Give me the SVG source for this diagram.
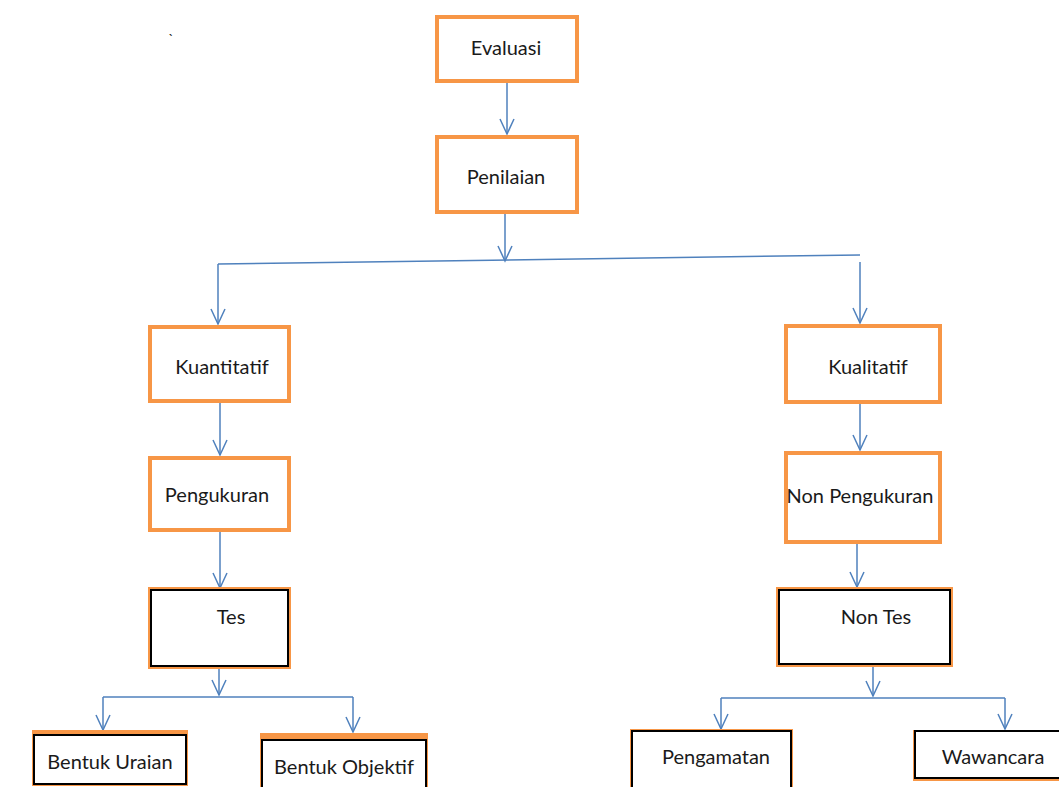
<svg xmlns="http://www.w3.org/2000/svg" width="1059" height="787" viewBox="0 0 1059 787">
<style>
.ob{fill:#fff;stroke:#F79646;stroke-width:4}
.oo{fill:none;stroke:#F79646;stroke-width:2}
.bb{fill:#fff;stroke:#000;stroke-width:2}
.c{fill:none;stroke:#4F81BD;stroke-width:1.5}
text{font-family:Lato,"Liberation Sans",sans-serif;font-size:20px;fill:#1a1a1a;text-anchor:middle}
</style>
<defs>
<marker id="a" markerUnits="userSpaceOnUse" markerWidth="18" markerHeight="16" refX="16" refY="8" orient="auto" viewBox="0 0 18 16">
<path d="M1,1 L16,8 L1,15" fill="none" stroke="#4F81BD" stroke-width="1.5"/>
</marker>
</defs>
<rect width="1059" height="787" fill="#fff"/>
<text x="171" y="44" style="font-size:14px">`</text>
<g id="connectors">
<line class="c" x1="507" y1="82" x2="507" y2="134" marker-end="url(#a)"/>
<line class="c" x1="505" y1="213" x2="505" y2="261" marker-end="url(#a)"/>
<line class="c" x1="218" y1="264" x2="860" y2="255"/>
<line class="c" x1="218" y1="264" x2="218" y2="324" marker-end="url(#a)"/>
<line class="c" x1="860" y1="262" x2="860" y2="323" marker-end="url(#a)"/>
<line class="c" x1="220" y1="402" x2="220" y2="455" marker-end="url(#a)"/>
<line class="c" x1="860" y1="403" x2="860" y2="450" marker-end="url(#a)"/>
<line class="c" x1="220" y1="531" x2="220" y2="588" marker-end="url(#a)"/>
<line class="c" x1="857" y1="544" x2="857" y2="587" marker-end="url(#a)"/>
<line class="c" x1="219" y1="667" x2="219" y2="695" marker-end="url(#a)"/>
<line class="c" x1="103" y1="697" x2="353" y2="697"/>
<line class="c" x1="103" y1="697" x2="103" y2="730" marker-end="url(#a)"/>
<line class="c" x1="353" y1="697" x2="353" y2="732" marker-end="url(#a)"/>
<line class="c" x1="873" y1="666" x2="873" y2="696" marker-end="url(#a)"/>
<line class="c" x1="721" y1="698" x2="1005" y2="698"/>
<line class="c" x1="721" y1="698" x2="721" y2="729" marker-end="url(#a)"/>
<line class="c" x1="1005" y1="698" x2="1005" y2="729" marker-end="url(#a)"/>
</g>
<g id="evaluasi"><rect class="ob" x="437" y="17" width="140" height="64"/><text x="506" y="55">Evaluasi</text></g>
<g id="penilaian"><rect class="ob" x="437" y="137" width="140" height="75"/><text x="506" y="184">Penilaian</text></g>
<g id="kuantitatif"><rect class="ob" x="150" y="327" width="139" height="74"/><text x="222" y="374">Kuantitatif</text></g>
<g id="kualitatif"><rect class="ob" x="786" y="326" width="154" height="76"/><text x="868" y="374">Kualitatif</text></g>
<g id="pengukuran"><rect class="ob" x="150" y="458" width="139" height="72"/><text x="217" y="502">Pengukuran</text></g>
<g id="non-pengukuran"><rect class="ob" x="786" y="453" width="154" height="89"/><text x="860" y="503">Non Pengukuran</text></g>
<g id="tes"><rect class="oo" x="149" y="588" width="141" height="80"/><rect class="bb" x="151" y="590" width="137" height="76"/><text x="231" y="624">Tes</text></g>
<g id="non-tes"><rect class="oo" x="777" y="588" width="175" height="78"/><rect class="bb" x="779" y="590" width="171" height="74"/><text x="876" y="624">Non Tes</text></g>
<g id="bentuk-uraian"><rect x="32" y="730" width="156" height="56" fill="#F79646"/><rect class="bb" x="34" y="735" width="152" height="49"/><text x="110" y="769">Bentuk Uraian</text></g>
<g id="bentuk-objektif"><rect x="260" y="733" width="168" height="60" fill="#F79646"/><rect class="bb" x="262" y="740" width="164" height="52"/><text x="344" y="774">Bentuk Objektif</text></g>
<g id="pengamatan"><rect class="oo" x="631" y="730" width="161" height="62"/><rect class="bb" x="632" y="731" width="159" height="60"/><text x="716" y="764">Pengamatan</text></g>
<g id="wawancara"><rect x="913" y="730" width="150" height="51" fill="#F79646"/><rect class="bb" x="915" y="731" width="150" height="47"/><text x="993" y="764">Wawancara</text></g>
</svg>
